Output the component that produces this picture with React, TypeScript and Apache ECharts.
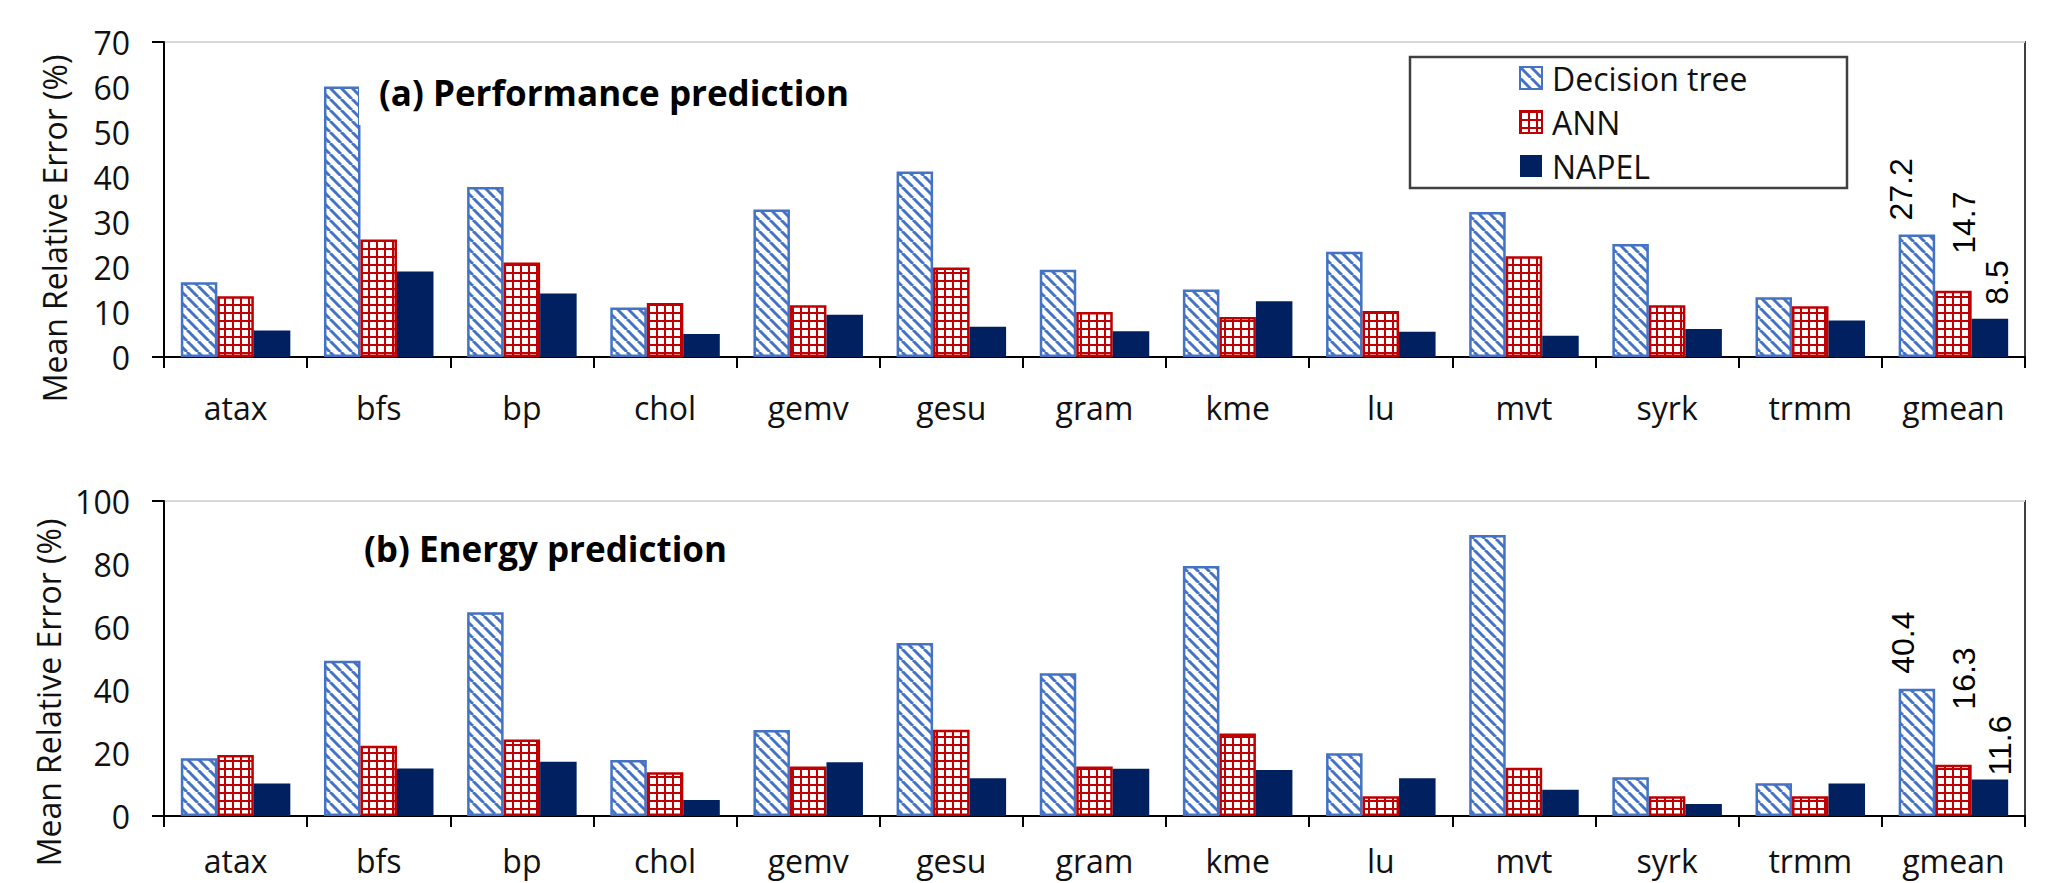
import React, { useEffect, useRef } from 'react';
import * as echarts from 'echarts';

// ---------- data ----------
const categories = ['atax', 'bfs', 'bp', 'chol', 'gemv', 'gesu', 'gram', 'kme', 'lu', 'mvt', 'syrk', 'trmm', 'gmean'];
const seriesNames = ['Decision tree', 'ANN', 'NAPEL'];

const perfDecisionTree = [16.6, 60.1, 37.8, 11.0, 32.8, 41.2, 19.4, 15.0, 23.4, 32.2, 25.1, 13.3, 27.2];
const perfANN = [13.5, 26.1, 21.0, 12.0, 11.5, 19.9, 10.0, 8.9, 10.2, 22.4, 11.5, 11.3, 14.7];
const perfNAPEL = [5.9, 19.0, 14.1, 5.1, 9.4, 6.7, 5.7, 12.4, 5.6, 4.7, 6.2, 8.1, 8.5];

const energyDecisionTree = [18.3, 49.3, 64.7, 17.8, 27.3, 54.9, 45.3, 79.4, 19.9, 89.2, 12.3, 10.4, 40.4];
const energyANN = [19.4, 22.3, 24.3, 13.9, 15.7, 27.4, 15.7, 26.2, 6.3, 15.3, 6.3, 6.3, 16.3];
const energyNAPEL = [10.3, 15.1, 17.2, 5.1, 17.1, 12.0, 15.0, 14.6, 12.0, 8.3, 3.8, 10.3, 11.6];

const perfAxis = { min: 0, max: 70, interval: 10 };
const energyAxis = { min: 0, max: 100, interval: 20 };

const titleA = '(a) Performance prediction';
const titleB = '(b) Energy prediction';
const yAxisName = 'Mean Relative Error (%)';

// ---------- styles ----------
const BLUE = '#4472C4';
const RED = '#C00000';
const NAVY = '#002060';
const FONT = "'Open Sans', sans-serif";
const LABEL_FONT = "'Liberation Sans', Arial, sans-serif";

function makeStripe(): HTMLCanvasElement {
  const s = 11;
  const c = document.createElement('canvas');
  c.width = s;
  c.height = s;
  const g = c.getContext('2d')!;
  g.fillStyle = '#ffffff';
  g.fillRect(0, 0, s, s);
  g.strokeStyle = BLUE;
  g.lineWidth = 3;
  for (const k of [-s, 0, s]) {
    g.beginPath();
    g.moveTo(k, 0);
    g.lineTo(k + s, s);
    g.stroke();
  }
  return c;
}

function makeGridPattern(): HTMLCanvasElement {
  const s = 8;
  const c = document.createElement('canvas');
  c.width = s;
  c.height = s;
  const g = c.getContext('2d')!;
  g.fillStyle = '#ffffff';
  g.fillRect(0, 0, s, s);
  g.fillStyle = RED;
  g.fillRect(0, 0, s, 2);
  g.fillRect(0, 0, 2, s);
  return c;
}

const labelBase = {
  show: true,
  position: 'top',
  rotate: 90,
  align: 'left',
  verticalAlign: 'middle',
  fontFamily: LABEL_FONT,
  fontSize: 32,
  color: '#000',
};

// gap: distance above bar top; dx: horizontal shift (label is rotated, so offset is [along, across])
function withLastLabel(values: number[], gap: number, dx: number) {
  return values.map((v, i) =>
    i === values.length - 1
      ? { value: v, label: { ...labelBase, distance: gap, offset: [0, dx] } }
      : v
  );
}

export default function App() {
  const ref = useRef<HTMLDivElement>(null);

  useEffect(() => {
    if (!ref.current) return;
    const chart = echarts.init(ref.current, undefined, { renderer: 'svg' });

    const stripe = makeStripe();
    const grid = makeGridPattern();
    const stripeFill: any = { image: stripe, repeat: 'repeat', imageWidth: stripe.width, imageHeight: stripe.height };
    const gridFill: any = { image: grid, repeat: 'repeat', imageWidth: grid.width, imageHeight: grid.height };

    const itemStyles = [
      { color: stripeFill, borderColor: BLUE, borderWidth: 2.5 },
      { color: gridFill, borderColor: RED, borderWidth: 2.5 },
      { color: NAVY, borderWidth: 0 },
    ];

    const xAxisBase = (gridIndex: number, margin: number) => ({
      type: 'category',
      gridIndex,
      data: categories,
      axisLine: { show: true, lineStyle: { color: '#000', width: 2 } },
      axisTick: { show: true, interval: 0, length: 11, alignWithLabel: false, lineStyle: { color: '#000', width: 2 } },
      axisLabel: { fontFamily: FONT, fontSize: 32, color: '#111', margin, interval: 0 },
      splitLine: { show: false },
    });

    const yAxisBase = (gridIndex: number, ax: { min: number; max: number; interval: number }, shift: number) => ({
      type: 'value',
      gridIndex,
      min: ax.min,
      max: ax.max,
      interval: ax.interval,
      name: yAxisName,
      nameLocation: 'middle',
      nameGap: 94,
      nameTextStyle: { fontFamily: FONT, fontSize: 32, color: '#111', padding: [0, shift * 2, 0, 0] },
      axisLine: { show: true, lineStyle: { color: '#000', width: 2 } },
      axisTick: { show: true, length: 12, customValues: [ax.min, ax.max], lineStyle: { color: '#000', width: 2 } },
      axisLabel: { fontFamily: FONT, fontSize: 32, color: '#111', margin: 34 },
      splitLine: { show: true, lineStyle: { color: '#D9D9D9', width: 2 } },
    });

    const perfData = [
      withLastLabel(perfDecisionTree, 14, -16),
      withLastLabel(perfANN, 37, 11),
      withLastLabel(perfNAPEL, 14, 7),
    ];
    const energyData = [
      withLastLabel(energyDecisionTree, 15, -14),
      withLastLabel(energyANN, 55, 11),
      withLastLabel(energyNAPEL, 4, 10),
    ];

    const series: any[] = [];
    [perfData, energyData].forEach((set, gi) => {
      set.forEach((data, si) => {
        series.push({
          type: 'bar',
          name: seriesNames[si],
          xAxisIndex: gi,
          yAxisIndex: gi,
          data,
          barGap: '0%',
          barCategoryGap: '23.5%',
          itemStyle: itemStyles[si],
          emphasis: { disabled: true },
        });
      });
    });

    const option: any = {
      animation: false,
      backgroundColor: '#ffffff',
      grid: [
        { left: 164, right: 26, top: 42, height: 315, show: true, borderColor: '#404040', borderWidth: 2, backgroundColor: 'transparent' },
        { left: 164, right: 26, top: 501, height: 315, show: true, borderColor: '#404040', borderWidth: 2, backgroundColor: 'transparent' },
      ],
      xAxis: [xAxisBase(0, 34), xAxisBase(1, 28)],
      yAxis: [yAxisBase(0, perfAxis, 29), yAxisBase(1, energyAxis, 34)],
      legend: {
        data: seriesNames,
        orient: 'vertical',
        left: 1519,
        top: 62,
        padding: 0,
        itemWidth: 22,
        itemHeight: 22,
        itemGap: 12,
        icon: 'rect',
        selectedMode: false,
        z: 60,
        textStyle: { fontFamily: FONT, fontSize: 32, color: '#111', lineHeight: 32, padding: [0, 0, 0, 5] },
      },
      graphic: [
        { type: 'rect', z: 50, shape: { x: 359, y: 52, width: 829, height: 73 }, style: { fill: '#ffffff' } },
        {
          type: 'text', z: 51, x: 379, y: 92,
          style: { text: titleA, fontFamily: FONT, fontWeight: 'bold', fontSize: 35, fill: '#000', align: 'left', verticalAlign: 'middle', textAlign: 'left', textVerticalAlign: 'middle' },
        },
        { type: 'rect', z: 50, shape: { x: 342, y: 515, width: 659, height: 80 }, style: { fill: '#ffffff' } },
        {
          type: 'text', z: 51, x: 364, y: 548,
          style: { text: titleB, fontFamily: FONT, fontWeight: 'bold', fontSize: 35, fill: '#000', align: 'left', verticalAlign: 'middle', textAlign: 'left', textVerticalAlign: 'middle' },
        },
        { type: 'rect', z: 50, shape: { x: 1410, y: 57, width: 437, height: 131 }, style: { fill: '#ffffff', stroke: '#404040', lineWidth: 2.5 } },
      ],
      series,
    };

    chart.setOption(option);
    return () => chart.dispose();
  }, []);

  return (
    <div
      ref={ref}
      style={{ position: 'absolute', left: 0, top: 0, width: 2051, height: 883, background: '#fff' }}
    />
  );
}
